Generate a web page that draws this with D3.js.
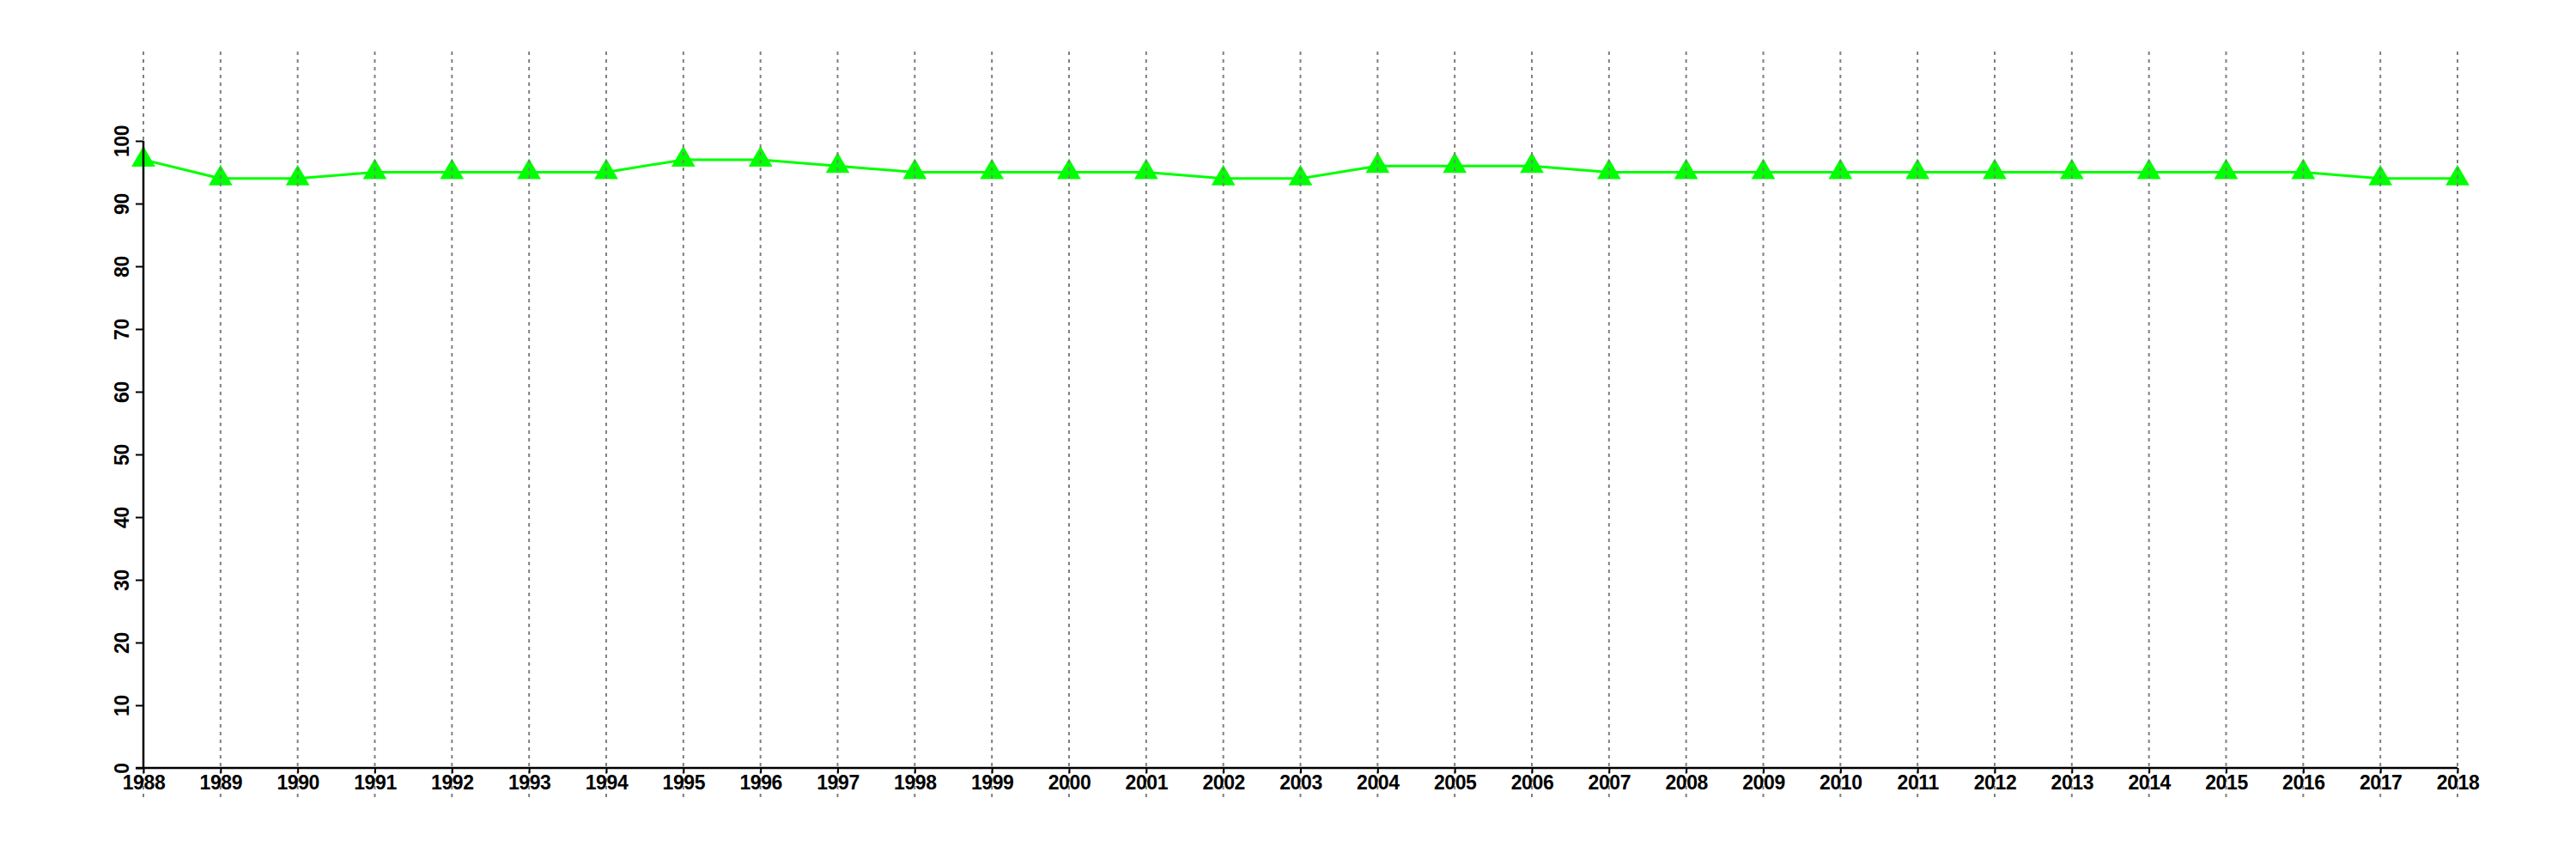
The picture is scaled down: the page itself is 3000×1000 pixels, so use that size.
<!DOCTYPE html>
<html>
<head>
<meta charset="utf-8">
<script src="https://cdn.jsdelivr.net/npm/d3@7"></script>
<style>
  html, body { margin: 0; padding: 0; background: #fff; }
  svg { display: block; }
  .axis text { font-family: "Liberation Sans", Arial, Helvetica, sans-serif; font-weight: bold; font-size: 23px; letter-spacing: -0.4px; fill: #000; }
</style>
</head>
<body>
<script>
const years = [1988,1989,1990,1991,1992,1993,1994,1995,1996,1997,1998,1999,2000,2001,2002,2003,2004,2005,2006,2007,2008,2009,2010,2011,2012,2013,2014,2015,2016,2017,2018];
const values = [97,94,94,95,95,95,95,97,97,96,95,95,95,95,94,94,96,96,96,95,95,95,95,95,95,95,95,95,95,94,94];
const yTicks = [0,10,20,30,40,50,60,70,80,90,100];

const W = 3000, H = 1000;
const svg = d3.select("body").append("svg").attr("width", W).attr("height", H);

const x = d3.scaleLinear().domain([1988, 2018]).range([167, 2862]);
const y = d3.scaleLinear().domain([0, 100]).range([894, 164]);

const data = years.map((yr, i) => ({ year: yr, value: values[i] }));

// line
svg.append("path")
  .datum(data)
  .attr("fill", "none")
  .attr("stroke", "#00ff00")
  .attr("stroke-width", 3)
  .attr("d", d3.line().x(d => x(d.year)).y(d => y(d.value)));

// triangles
svg.append("g").selectAll("path")
  .data(data)
  .join("path")
  .attr("transform", d => `translate(${x(d.year)},${y(d.value)})`)
  .attr("d", d3.symbol().type(d3.symbolTriangle).size(332))
  .attr("fill", "#00ff00");

// vertical dotted gridlines
svg.append("g").selectAll("line")
  .data(years)
  .join("line")
  .attr("x1", d => x(d)).attr("x2", d => x(d))
  .attr("y1", 60).attr("y2", 928)
  .attr("stroke", "#808080")
  .attr("stroke-width", 2)
  .attr("stroke-dasharray", "4,5");

// y axis
const yAxis = svg.append("g")
  .attr("class", "axis")
  .attr("transform", `translate(${x(1988)},0)`)
  .call(d3.axisLeft(y).tickValues(yTicks).tickSize(9).tickPadding(8).tickFormat(d3.format("d")));
yAxis.select(".domain").attr("stroke", "#000").attr("stroke-width", 2.5).attr("d", `M0,${y(0)}V${y(100)}`);
yAxis.selectAll(".tick line").attr("stroke", "#000").attr("stroke-width", 2);
yAxis.selectAll(".tick text")
  .attr("transform", "rotate(-90)")
  .attr("x", 0)
  .attr("y", -17)
  .attr("dy", 0)
  .attr("text-anchor", "middle");

// x axis
const xAxis = svg.append("g")
  .attr("class", "axis")
  .attr("transform", `translate(0,${y(0)})`)
  .call(d3.axisBottom(x).tickValues(years).tickSize(6).tickPadding(3).tickFormat(d3.format("d")));
xAxis.select(".domain").attr("stroke", "#000").attr("stroke-width", 2.5).attr("d", `M${x(1988) - 9},0H${x(2018)}`);
xAxis.selectAll(".tick line").attr("stroke", "#000").attr("stroke-width", 2);
</script>
</body>
</html>
